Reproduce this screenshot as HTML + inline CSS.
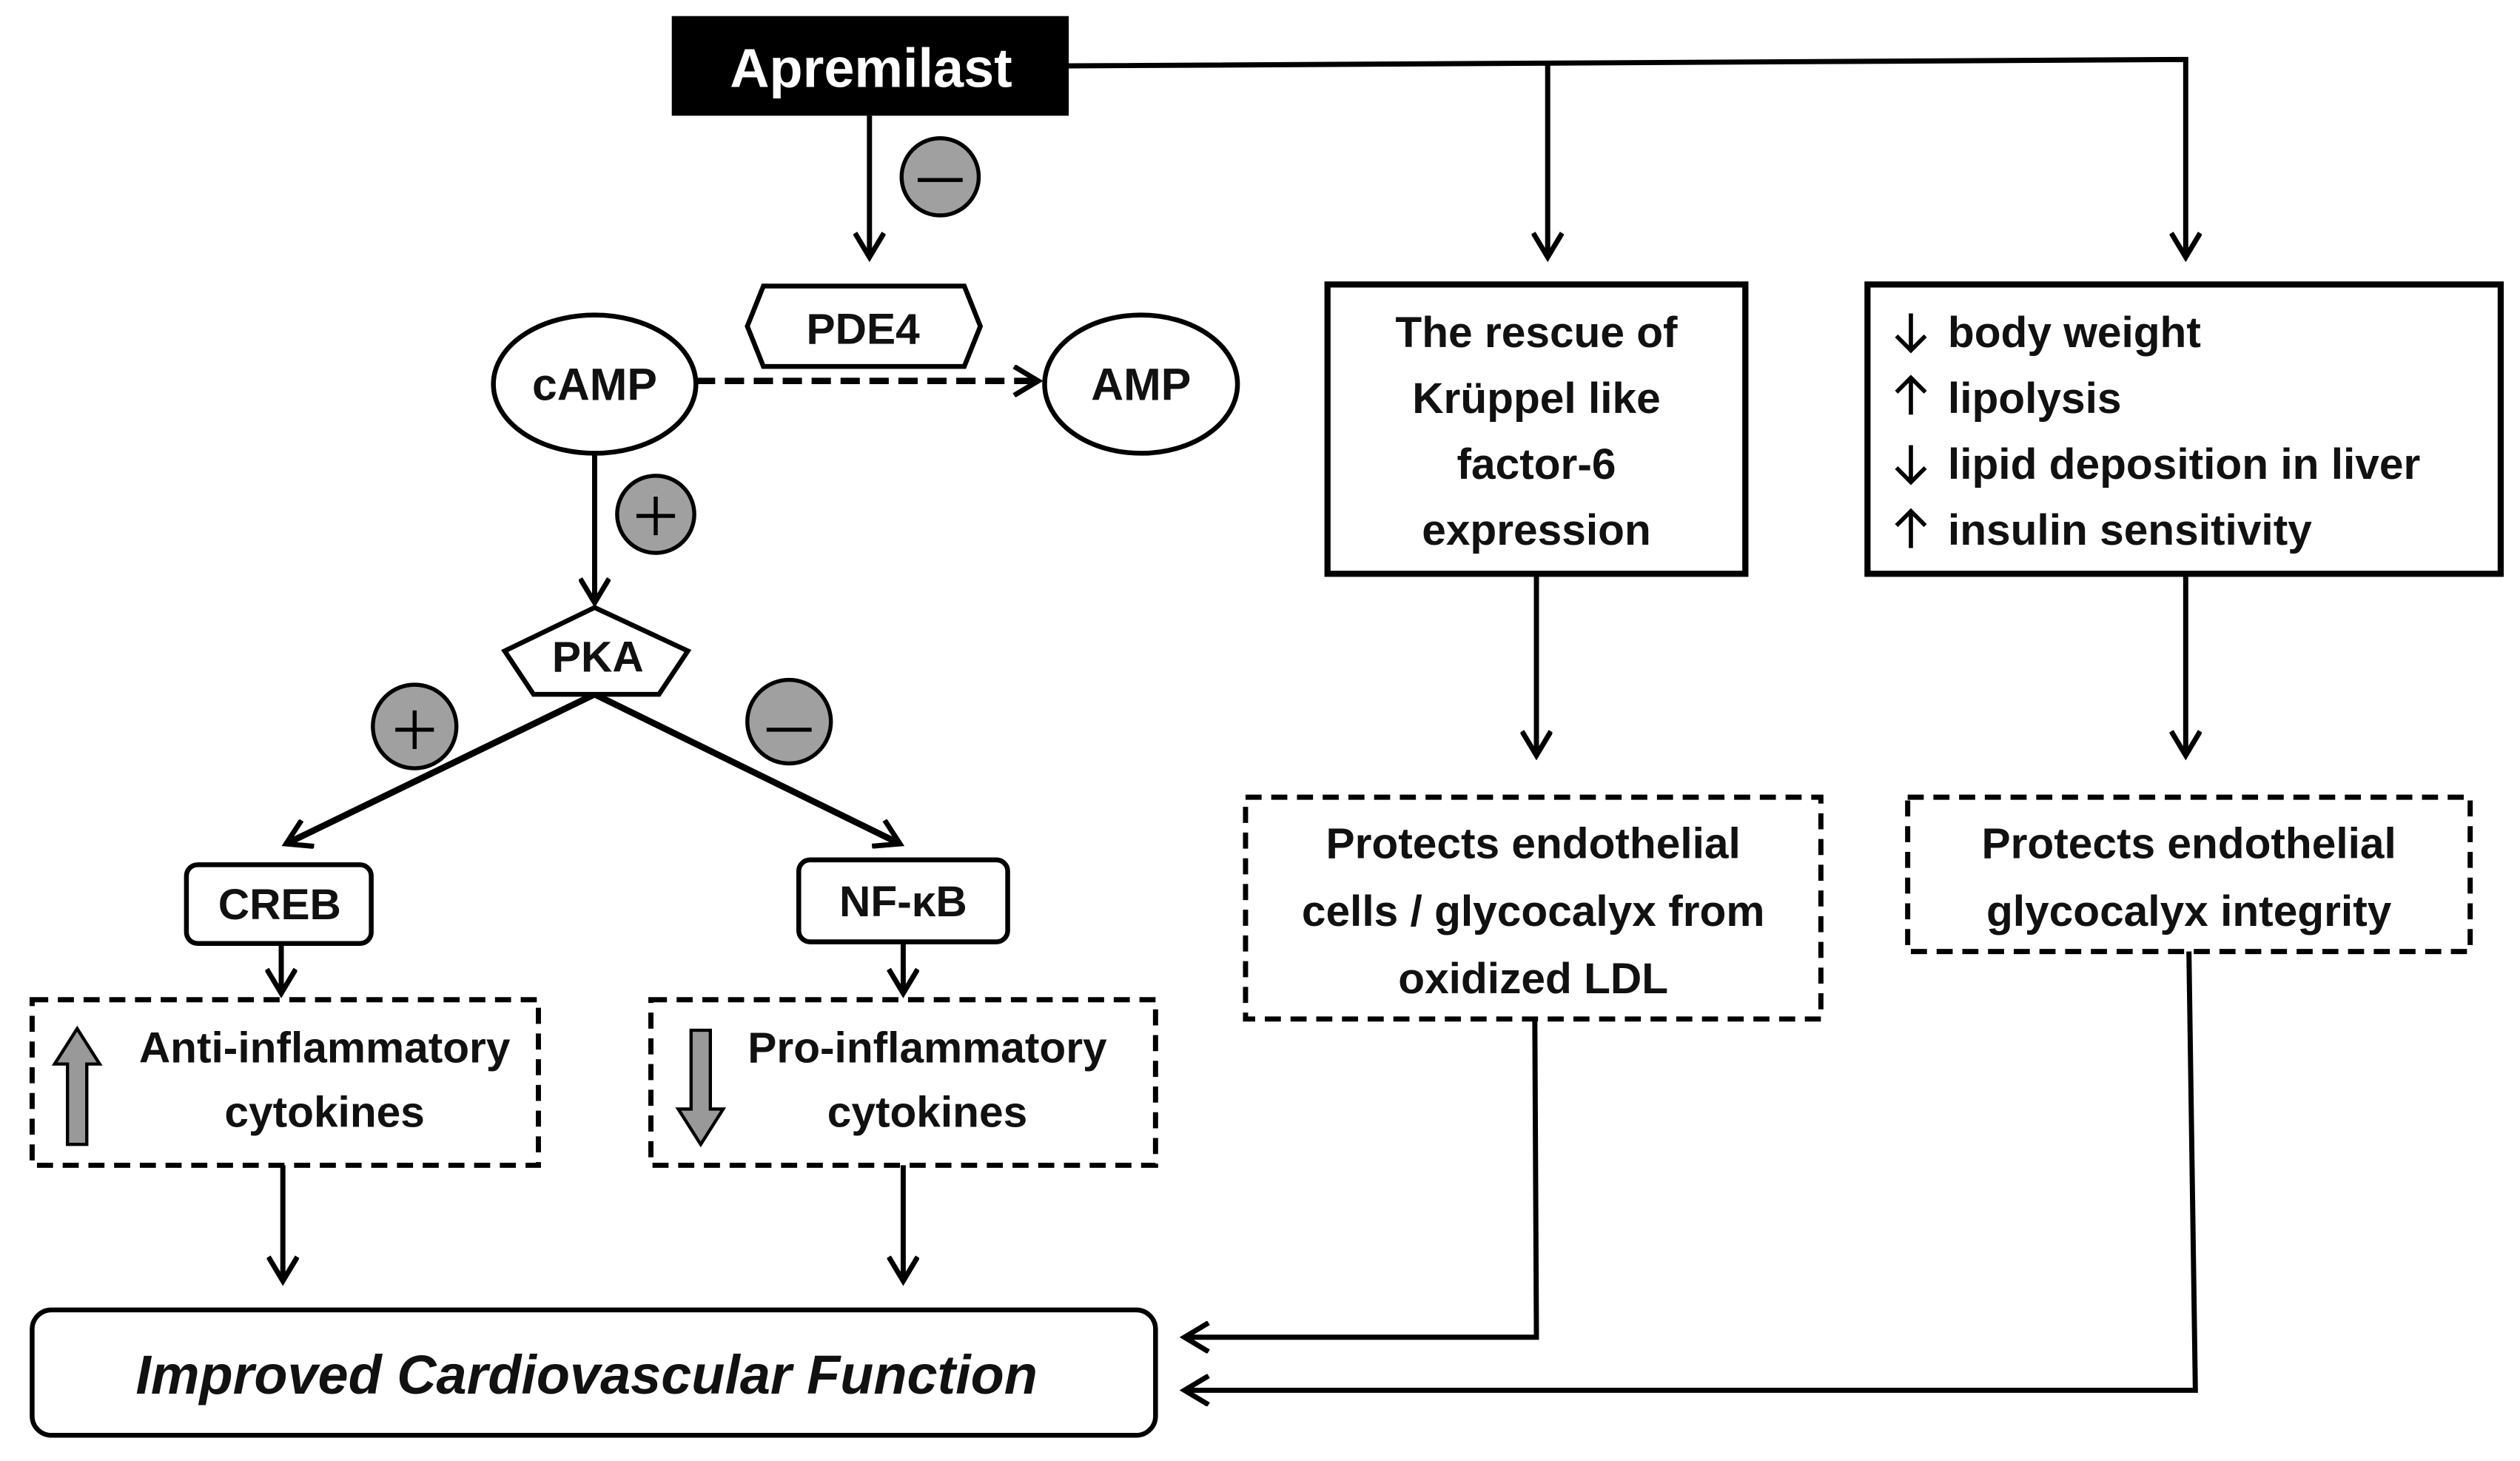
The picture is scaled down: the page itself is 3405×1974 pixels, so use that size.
<!DOCTYPE html>
<html><head><meta charset="utf-8"><style>
html,body{margin:0;padding:0;background:#fff}
svg{display:block}
text{font-family:"Liberation Sans","DejaVu Sans",sans-serif;font-weight:bold;fill:#111}
</style></head><body>
<svg width="3405" height="1974" viewBox="0 0 1568 909" preserveAspectRatio="none" xmlns="http://www.w3.org/2000/svg">
<defs>
<marker id="b" markerWidth="20" markerHeight="20" refX="17" refY="10" orient="auto" markerUnits="userSpaceOnUse" viewBox="0 0 20 20">
<path d="M2,1 L17,10 L2,19" fill="none" stroke="#000" stroke-width="3.2"/>
</marker>
</defs>
<g stroke="#000" stroke-width="3.2" fill="none">
<polyline points="665,41 1360,37 1360,160" marker-end="url(#b)"/>
<line x1="963" y1="38" x2="963" y2="160" marker-end="url(#b)"/>
<line x1="541" y1="72" x2="541" y2="160" marker-end="url(#b)"/>
<line x1="433" y1="237" x2="646" y2="237" stroke-width="4" stroke-dasharray="12,6" marker-end="url(#b)"/>
<line x1="370" y1="282" x2="370" y2="375" marker-end="url(#b)"/>
<line x1="370" y1="432" x2="178" y2="525" stroke-width="4" marker-end="url(#b)"/>
<line x1="370" y1="432" x2="560" y2="525" stroke-width="4" marker-end="url(#b)"/>
<line x1="175" y1="587" x2="175" y2="618" marker-end="url(#b)"/>
<line x1="562" y1="586" x2="562" y2="618" marker-end="url(#b)"/>
<line x1="176" y1="725" x2="176" y2="797" marker-end="url(#b)"/>
<line x1="562" y1="725" x2="562" y2="797" marker-end="url(#b)"/>
<line x1="956" y1="357" x2="956" y2="470" marker-end="url(#b)"/>
<line x1="1360" y1="357" x2="1360" y2="470" marker-end="url(#b)"/>
<polyline points="955,634 956,832 737,832" marker-end="url(#b)"/>
<polyline points="1362,592 1366,865 737,865" marker-end="url(#b)"/>
</g>
<rect x="418" y="10" width="247" height="62" fill="#000"/>
<text x="542" y="54" font-size="34" text-anchor="middle" style="fill:#fff">Apremilast</text>
<g stroke="#000" stroke-width="2.5" fill="#a0a0a0">
<circle cx="585" cy="110" r="24"/>
<circle cx="408" cy="320" r="24"/>
<circle cx="258" cy="452" r="26"/>
<circle cx="491" cy="449" r="26"/>
</g>
<g stroke="#000" stroke-width="2.5">
<line x1="571" y1="112" x2="599" y2="112"/>
<line x1="396" y1="321" x2="420" y2="321"/><line x1="408" y1="309" x2="408" y2="333"/>
<line x1="246" y1="454" x2="270" y2="454"/><line x1="258" y1="442" x2="258" y2="466"/>
<line x1="477" y1="454" x2="505" y2="454"/>
</g>
<polygon points="475,178 600,178 610,203 600,228 475,228 465,203" fill="#fff" stroke="#000" stroke-width="3"/>
<text x="537" y="214" font-size="27" text-anchor="middle">PDE4</text>
<ellipse cx="370" cy="239" rx="63" ry="43" fill="#fff" stroke="#000" stroke-width="3"/>
<text x="370" y="249" font-size="28" text-anchor="middle">cAMP</text>
<ellipse cx="710" cy="239" rx="60" ry="43" fill="#fff" stroke="#000" stroke-width="3"/>
<text x="710" y="249" font-size="28" text-anchor="middle">AMP</text>
<polygon points="370,378 428,405 410,432 332,432 314,405" fill="#fff" stroke="#000" stroke-width="3"/>
<text x="372" y="418" font-size="27" text-anchor="middle">PKA</text>
<rect x="116" y="538" width="115" height="49" rx="7" fill="#fff" stroke="#000" stroke-width="3"/>
<text x="174" y="572" font-size="27" text-anchor="middle">CREB</text>
<rect x="497" y="535" width="130" height="51" rx="7" fill="#fff" stroke="#000" stroke-width="3"/>
<text x="562" y="570" font-size="27" text-anchor="middle">NF-κB</text>
<g fill="none" stroke="#000" stroke-width="3.2" stroke-dasharray="10,6">
<rect x="20" y="622" width="315" height="103"/>
<rect x="405" y="622" width="314" height="103"/>
<rect x="775" y="496" width="358" height="138"/>
<rect x="1187" y="496" width="350" height="96"/>
</g>
<polygon points="48,640 62,662 54,662 54,712 42,712 42,662 34,662" fill="#999" stroke="#000" stroke-width="2"/>
<polygon points="436,712 450,690 442,690 442,641 430,641 430,690 422,690" fill="#999" stroke="#000" stroke-width="2"/>
<text x="202" y="661" font-size="27" text-anchor="middle">Anti-inflammatory</text>
<text x="202" y="701" font-size="27" text-anchor="middle">cytokines</text>
<text x="577" y="661" font-size="27" text-anchor="middle">Pro-inflammatory</text>
<text x="577" y="701" font-size="27" text-anchor="middle">cytokines</text>
<rect x="20" y="815" width="699" height="78" rx="12" fill="#fff" stroke="#000" stroke-width="3"/>
<text x="365" y="867" font-size="34" text-anchor="middle" font-style="italic">Improved Cardiovascular Function</text>
<rect x="826" y="177" width="260" height="180" fill="#fff" stroke="#000" stroke-width="3.8"/>
<g font-size="27" text-anchor="middle">
<text x="956" y="216">The rescue of</text>
<text x="956" y="257">Krüppel like</text>
<text x="956" y="298">factor-6</text>
<text x="956" y="339">expression</text>
</g>
<rect x="1162" y="177" width="394" height="180" fill="#fff" stroke="#000" stroke-width="3.8"/>
<g stroke="#000" stroke-width="2.6" fill="none">
<path d="M1189,195 V218 M1180,209 L1189,218 L1198,209"/>
<path d="M1189,258 V235 M1180,244 L1189,235 L1198,244"/>
<path d="M1189,277 V300 M1180,291 L1189,300 L1198,291"/>
<path d="M1189,341 V318 M1180,327 L1189,318 L1198,327"/>
</g>
<g font-size="27">
<text x="1212" y="216">body weight</text>
<text x="1212" y="257">lipolysis</text>
<text x="1212" y="298">lipid deposition in liver</text>
<text x="1212" y="339">insulin sensitivity</text>
</g>
<g font-size="27" text-anchor="middle">
<text x="954" y="534">Protects endothelial</text>
<text x="954" y="576">cells / glycocalyx from</text>
<text x="954" y="618">oxidized LDL</text>
<text x="1362" y="534">Protects endothelial</text>
<text x="1362" y="576">glycocalyx integrity</text>
</g>
</svg>
</body></html>
